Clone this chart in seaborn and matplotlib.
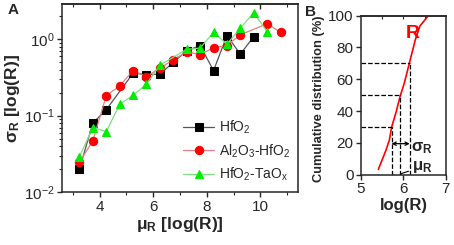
import numpy as np
import pandas as pd
import matplotlib
matplotlib.use("Agg")
import matplotlib.pyplot as plt
import matplotlib.ticker as mticker
import seaborn as sns

sns.set_style("ticks")
plt.rcParams['font.family'] = ['Liberation Sans', 'DejaVu Sans']
plt.rcParams['mathtext.default'] = 'regular'

# Panel A data
x_hfo2 = [3.25, 3.75, 4.25, 5.25, 5.75, 6.25, 6.75, 7.25, 7.75, 8.25, 8.75, 9.25, 9.75]
y_hfo2 = [0.020, 0.080, 0.12, 0.36, 0.346, 0.35, 0.50, 0.71, 0.83, 0.39, 1.12, 0.64, 1.09]
x_al = [3.25, 3.75, 4.25, 4.75, 5.25, 5.75, 6.25, 6.75, 7.25, 7.75, 8.25, 8.75, 9.25, 10.25, 10.75]
y_al = [0.0246, 0.047, 0.183, 0.246, 0.39, 0.326, 0.42, 0.54, 0.69, 0.63, 0.78, 0.83, 1.15, 1.6, 1.24]
x_ta = [3.25, 3.75, 4.25, 4.75, 5.25, 5.75, 6.25, 7.25, 7.75, 8.25, 8.75, 9.25, 9.75, 10.25]
y_ta = [0.029, 0.070, 0.062, 0.141, 0.185, 0.259, 0.46, 0.74, 0.77, 1.24, 0.865, 1.40, 2.24, 1.26]

# Panel B data
cdf_x = [5.41, 5.59, 5.67, 5.72, 5.83, 5.92, 6.02, 6.14, 6.28, 6.39, 6.59]
cdf_y = [3.4, 15.5, 21.8, 29.6, 39.6, 49.0, 57.4, 70.0, 84.7, 93.5, 100.0]
pct_levels = [30, 50, 70]
pct_x = [5.72, 5.93, 6.15]

fig = plt.figure(figsize=(4.54, 2.45), dpi=100)
axA = fig.add_axes([0.1366, 0.2163, 0.5198, 0.767])
axB = fig.add_axes([0.7952, 0.287, 0.1866, 0.649])

series = [
    ("HfO$_2$", x_hfo2, y_hfo2, 's', '#555555', 'black'),
    ("Al$_2$O$_3$-HfO$_2$", x_al, y_al, 'o', '#e88080', '#ff0000'),
    ("HfO$_2$-TaO$_x$", x_ta, y_ta, '^', '#7fe07f', '#00ee00'),
]
for label, xs, ys, mk, lc, mc in series:
    df = pd.DataFrame({"x": xs, "y": ys})
    sns.lineplot(data=df, x="x", y="y", ax=axA, marker=mk, color=lc,
                 markerfacecolor=mc, markeredgecolor=mc, markersize=6,
                 linewidth=0.9, label=label, sort=False, estimator=None)

axA.set_yscale('log')
axA.set_xlim(2.6, 11.4)
axA.set_ylim(0.01, 2.9)
axA.set_xticks([4, 6, 8, 10])
axA.set_xticks([3, 5, 7, 9, 11], minor=True)
axA.set_xlabel(r"$\mu_R$ [log(R)]", fontsize=12.5, fontweight='bold', labelpad=1)
axA.set_ylabel(r"$\sigma_R$ [log(R)]", fontsize=12.5, fontweight='bold', labelpad=1)
axA.tick_params(axis='both', which='major', labelsize=11, length=3.5, width=1, direction='out', pad=2)
axA.tick_params(axis='both', which='minor', length=2, width=0.8, direction='out')
for s in axA.spines.values():
    s.set_linewidth(1.1)
    s.set_visible(True)
# inward mirror ticks on top
secA = axA.secondary_xaxis('top')
secA.set_xticks([4, 6, 8, 10])
secA.set_xticks([3, 5, 7, 9, 11], minor=True)
secA.tick_params(which='major', direction='in', length=3.5, width=1, labeltop=False)
secA.tick_params(which='minor', direction='in', length=2, width=0.8)
secA.spines['top'].set_linewidth(1.1)

leg = axA.legend(loc='lower right', frameon=False, fontsize=10, handlelength=2.2,
                 handletextpad=0.35, labelspacing=0.45, bbox_to_anchor=(1.02, -0.02))
axA.text(-0.23, 0.97, "A", transform=axA.transAxes, fontsize=11, fontweight='bold', va='center')

# Panel B
dfb = pd.DataFrame({"x": cdf_x, "y": cdf_y})
sns.lineplot(data=dfb, x="x", y="y", ax=axB, color='red', linewidth=1.2, sort=False, estimator=None)
for lvl, xv in zip(pct_levels, pct_x):
    axB.plot([5, xv], [lvl, lvl], ls='--', color='black', lw=0.9)
    axB.plot([xv, xv], [0, lvl], ls='--', color='black', lw=0.9)
axB.annotate("", xy=(pct_x[0], 19.5), xytext=(pct_x[2], 19.5),
             arrowprops=dict(arrowstyle='<->', color='black', lw=0.9, shrinkA=0, shrinkB=0,
                             mutation_scale=6))
axB.text(6.18, 17, r"$\sigma_R$", fontsize=12, fontweight='bold', va='center')
axB.annotate(r"$\mu_R$", xy=(pct_x[1], 0.5), xytext=(6.2, 5), fontsize=12, fontweight='bold',
             va='center', arrowprops=dict(arrowstyle='-', color='black', lw=0.8, shrinkA=0, shrinkB=0))
axB.text(6.06, 89, "R", color='red', fontsize=14, fontweight='bold', va='center')
axB.set_xlim(5, 7)
axB.set_ylim(0, 100)
axB.set_xticks([5, 6, 7])
axB.set_yticks([0, 20, 40, 60, 80, 100])
axB.set_xlabel("log(R)", fontsize=12, fontweight='bold', labelpad=1)
axB.set_ylabel("Cumulative distribution (%)", fontsize=9.3, fontweight='bold', labelpad=2)
axB.yaxis.set_label_coords(-0.42, 0.48)
axB.tick_params(axis='both', which='major', labelsize=11, length=3.5, width=1, direction='out', pad=2)
secB = axB.secondary_xaxis('top')
secB.set_xticks([5.5, 6, 6.5])
secB.tick_params(direction='in', length=2, width=0.8, labeltop=False)
secB.spines['top'].set_linewidth(1.1)
for s in axB.spines.values():
    s.set_linewidth(1.1)
    s.set_visible(True)
axB.text(-0.66, 1.02, "B", transform=axB.transAxes, fontsize=11, fontweight='bold',
         va='center', ha='left')

fig.savefig("out.png", dpi=100)
